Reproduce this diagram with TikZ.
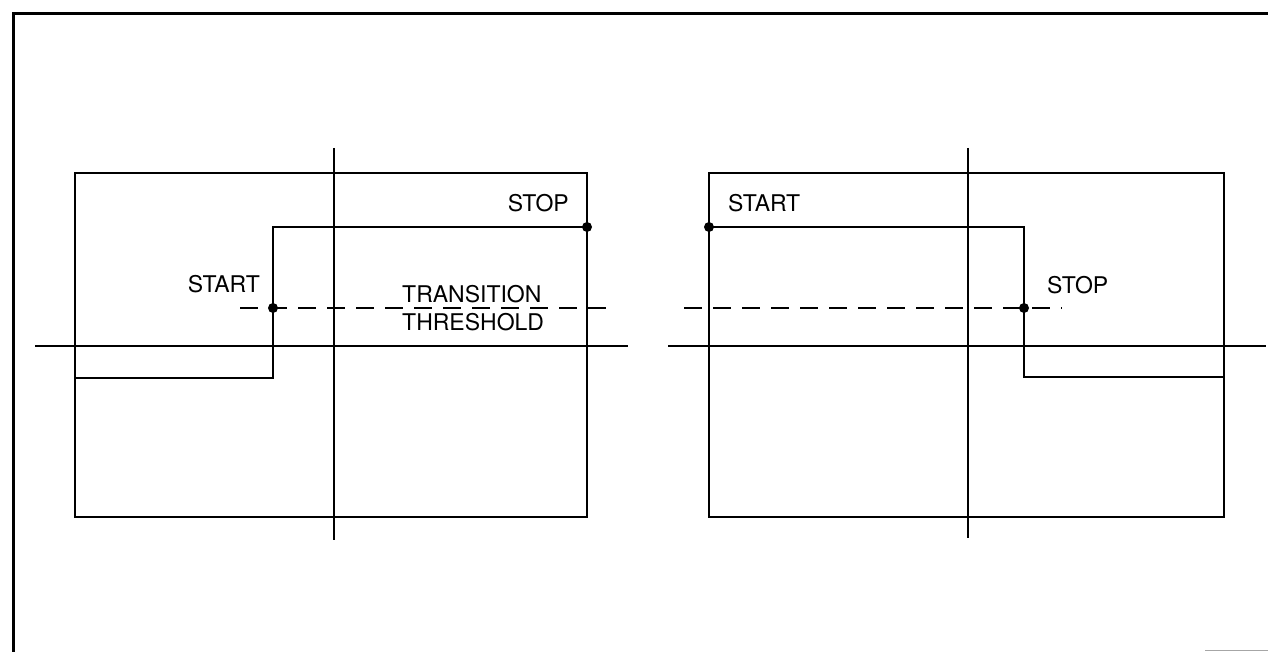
\documentclass[tikz,border=0pt]{standalone}
\usepackage{fontspec}
\setmainfont{TeX Gyre Heros}
\begin{document}
\begin{tikzpicture}[x=1pt,y=-1pt,
  framel/.style={line width=3pt},
  boxl/.style={line width=2pt},
  axisl/.style={line width=1.6pt},
  wavel/.style={line width=2pt},
  thrl/.style={line width=1.8pt,dash pattern=on 18pt off 11pt},
  dotc/.style={circle,fill=black,inner sep=0pt,minimum size=10pt},
  lbl/.style={inner sep=0pt,font=\fontsize{23}{27}\selectfont}]
\useasboundingbox (0,0) rectangle (1268,652);
% frame
\draw[framel] (13,652) -- (13,14) -- (1268,14);
\draw[line width=0.8pt,black!35] (1205,650.5) -- (1268,650.5);

% ---------- left panel ----------
\draw[boxl] (75,173) rectangle (587,517);
\draw[axisl] (334,148) -- (334,540);
\draw[axisl] (35,346) -- (628,346);
\coordinate (la) at (75,378);
\coordinate (lb) at (273,378);
\coordinate (lc) at (273,227);
\coordinate (ld) at (587,227);
\coordinate (lt1) at (240,308);
\coordinate (lt2) at (614,308);
\draw[thrl] (lt1) -- (lt2);
\draw[wavel] (la) -- (lb) -- (lc) -- (ld);
\node[dotc] (lstart) at (273,308) {};
\node[dotc] (lstop) at (587,227) {};
\node[lbl,anchor=base east] (lstartl) at (260,292) {START};
\node[lbl,anchor=base east] (lstopl) at (569,212) {STOP};
\node[lbl,anchor=base west] (ltrans) at (402,302) {TRANSITION};
\node[lbl,anchor=base west] (lthr) at (402,330) {THRESHOLD};

% ---------- right panel ----------
\draw[boxl] (709,173) rectangle (1224,517);
\draw[axisl] (968,148) -- (968,538);
\draw[axisl] (668,346) -- (1266,346);
\coordinate (ra) at (709,227);
\coordinate (rb) at (1024,227);
\coordinate (rc) at (1024,377);
\coordinate (rd) at (1224,377);
\coordinate (rt1) at (684,308);
\coordinate (rt2) at (1062,308);
\draw[thrl] (rt1) -- (rt2);
\draw[wavel] (ra) -- (rb) -- (rc) -- (rd);
\node[dotc] (rstart) at (709,227) {};
\node[dotc] (rstop) at (1024,308) {};
\node[lbl,anchor=base west] (rstartl) at (728,212) {START};
\node[lbl,anchor=base west] (rstopl) at (1047,293) {STOP};
\end{tikzpicture}
\end{document}
